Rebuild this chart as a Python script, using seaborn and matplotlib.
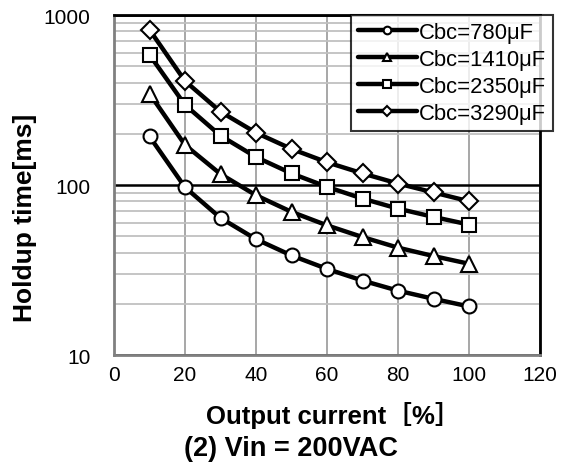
import matplotlib
matplotlib.use("Agg")
import matplotlib.pyplot as plt
import seaborn as sns
import pandas as pd
from matplotlib.ticker import FixedLocator, FixedFormatter, LogLocator, NullFormatter

current = [10, 20, 30, 40, 50, 60, 70, 80, 90, 100]
hold_780 = [193, 97, 64, 48, 38.5, 32.1, 27.4, 23.9, 21.4, 19.3]
hold_1410 = [345, 172, 116, 87, 69.5, 57.9, 49.4, 42.8, 38.2, 34.4]
hold_2350 = [583, 296, 195, 146, 117, 97.5, 83.2, 72.6, 64.9, 58.5]
hold_3290 = [819, 409, 270, 203, 163, 136, 117, 102, 90.4, 80.2]
labels = ["Cbc=780μF", "Cbc=1410μF", "Cbc=2350μF", "Cbc=3290μF"]
markers = ["o", "^", "s", "D"]
x_ticks = [0, 20, 40, 60, 80, 100, 120]
y_ticks = [10, 100, 1000]

sns.set_theme(style="white")
plt.rcParams['font.family'] = ['Liberation Sans', 'DejaVu Sans']
plt.rcParams['text.color'] = 'black'
plt.rcParams['axes.labelcolor'] = 'black'
plt.rcParams['xtick.color'] = 'black'
plt.rcParams['ytick.color'] = 'black'

fig = plt.figure(figsize=(5.74, 4.64), dpi=100)
ax = fig.add_axes([114/574, 1-356/464, (540-114)/574, (356-16)/464])

series = [hold_780, hold_1410, hold_2350, hold_3290]
msizes = [10, 11, 10, 9]
for vals, lab, mk, ms in zip(series, labels, markers, msizes):
    df = pd.DataFrame({"x": current, "y": vals})
    sns.lineplot(data=df, x="x", y="y", ax=ax, color="black", linewidth=3.2,
                 marker=mk, markersize=ms, markerfacecolor="white",
                 markeredgecolor="black", markeredgewidth=1.5, label=lab, zorder=5)

ax.set_yscale("log")
ax.set_xlim(0, 120)
ax.set_ylim(10, 1000)
ax.xaxis.set_major_locator(FixedLocator(x_ticks))
ax.set_xticklabels([str(t) for t in x_ticks])
ax.yaxis.set_major_locator(FixedLocator(y_ticks))
ax.yaxis.set_major_formatter(FixedFormatter([str(t) for t in y_ticks]))
ax.yaxis.set_minor_locator(LogLocator(base=10, subs=range(2, 10)))
ax.yaxis.set_minor_formatter(NullFormatter())
ax.tick_params(axis="both", which="both", length=0, labelsize=15, colors="black")
ax.tick_params(axis="y", pad=17)
ax.tick_params(axis="x", pad=7)

ax.grid(True, axis="x", which="major", color="#a0a0a0", linewidth=1.3)
ax.grid(True, axis="y", which="minor", color="#c0c0c0", linewidth=1.3)
ax.grid(True, axis="y", which="major", color="black", linewidth=1.8)
ax.set_axisbelow(True)

for side in ["left", "bottom"]:
    ax.spines[side].set_color("#808080")
    ax.spines[side].set_linewidth(2)
for side in ["top", "right"]:
    ax.spines[side].set_color("black")
    ax.spines[side].set_linewidth(2)

lab_font = ["Liberation Sans", "Noto Sans CJK JP", "DejaVu Sans"]
ax.set_xlabel("Output current［%］", fontsize=18.5, fontweight="bold",
              family=lab_font, color="black")
ax.xaxis.label.set_va("center")
ax.xaxis.set_label_coords((333-114)/426, (356-416)/340)
ax.set_ylabel("Holdup time[ms]", fontsize=19, fontweight="bold",
              family=lab_font, color="black")
ax.yaxis.label.set_va("center")
ax.yaxis.set_label_coords((25-114)/426, (356-218)/340)
fig.text(291/574, 1-449/464, "(2) Vin = 200VAC", fontsize=19.5, fontweight="bold",
         family=lab_font, ha="center", va="center", color="black")

leg = ax.legend(loc="upper right", bbox_to_anchor=(553/574, 1-16/464),
                bbox_transform=fig.transFigure, frameon=True, fancybox=False,
                edgecolor="black", fontsize=15.8, markerscale=0.55, handlelength=2.7,
                handletextpad=0.1, borderpad=0.3, labelspacing=0.28, borderaxespad=0)
for t in leg.get_texts():
    t.set_color("black")
leg.get_frame().set_linewidth(1.5)
leg.set_zorder(10)

fig.savefig("out.png", dpi=100, facecolor="white")
